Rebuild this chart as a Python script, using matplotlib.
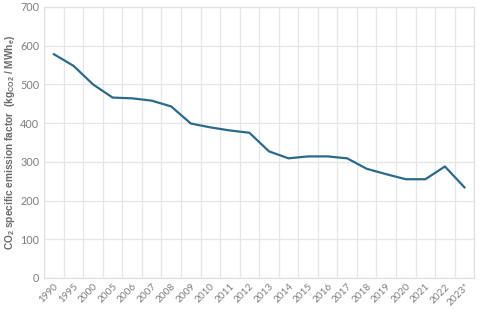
import matplotlib

matplotlib.use("Agg")
import matplotlib.pyplot as plt
from matplotlib.ticker import FixedLocator

years = ["1990", "1995", "2000", "2005", "2006", "2007", "2008", "2009", "2010",
         "2011", "2012", "2013", "2014", "2015", "2016", "2017", "2018", "2019",
         "2020", "2021", "2022", "2023*"]
factor = [578, 548, 500, 466, 464, 458, 443, 399, 389, 381, 375, 327, 309, 314,
          314, 309, 282, 268, 255, 255, 288, 234]
yticks = [0, 100, 200, 300, 400, 500, 600, 700]

plt.rcParams["font.family"] = ["Lato", "DejaVu Sans"]
plt.rcParams["mathtext.fontset"] = "custom"
plt.rcParams["mathtext.bf"] = "Liberation Sans:bold"
plt.rcParams["mathtext.rm"] = "Liberation Sans:bold"

fig = plt.figure(figsize=(4.8, 3.18), dpi=100)
ax = fig.add_axes([0.092, 0.126, 0.896, 0.852])

xs = list(range(len(years)))
ax.plot(xs, factor, color="#2b6a88", lw=1.6, solid_joinstyle="round")

ax.set_xlim(-0.5, len(years) - 0.5)
ax.set_ylim(0, 700)
ax.set_yticks(yticks)
ax.set_xticks(xs)
ax.set_xticklabels(years, rotation=45, ha="right", rotation_mode="anchor")
ax.xaxis.set_minor_locator(FixedLocator([i - 0.5 for i in range(len(years) + 1)]))

ax.grid(axis="y", which="major", color="#e6e6e6", lw=0.9)
ax.grid(axis="x", which="minor", color="#e6e6e6", lw=0.9)
ax.set_axisbelow(True)
ax.tick_params(axis="both", which="both", length=0, colors="#7f7f7f", labelsize=7.8)
ax.tick_params(axis="x", labelsize=7.2, pad=3)
for s in ax.spines.values():
    s.set_color("#e0e0e0")
    s.set_linewidth(0.9)

ax.set_ylabel(r"CO$_2$ specific emission factor  (kg$_{\mathrm{CO2}}$ / MWh$_{\mathrm{e}}$)",
              fontsize=7.3, fontweight="bold", color="#6a6a6a", family="Liberation Sans")
ax.yaxis.set_label_coords(-0.062, 0.5)

fig.savefig("out.png", dpi=100)
